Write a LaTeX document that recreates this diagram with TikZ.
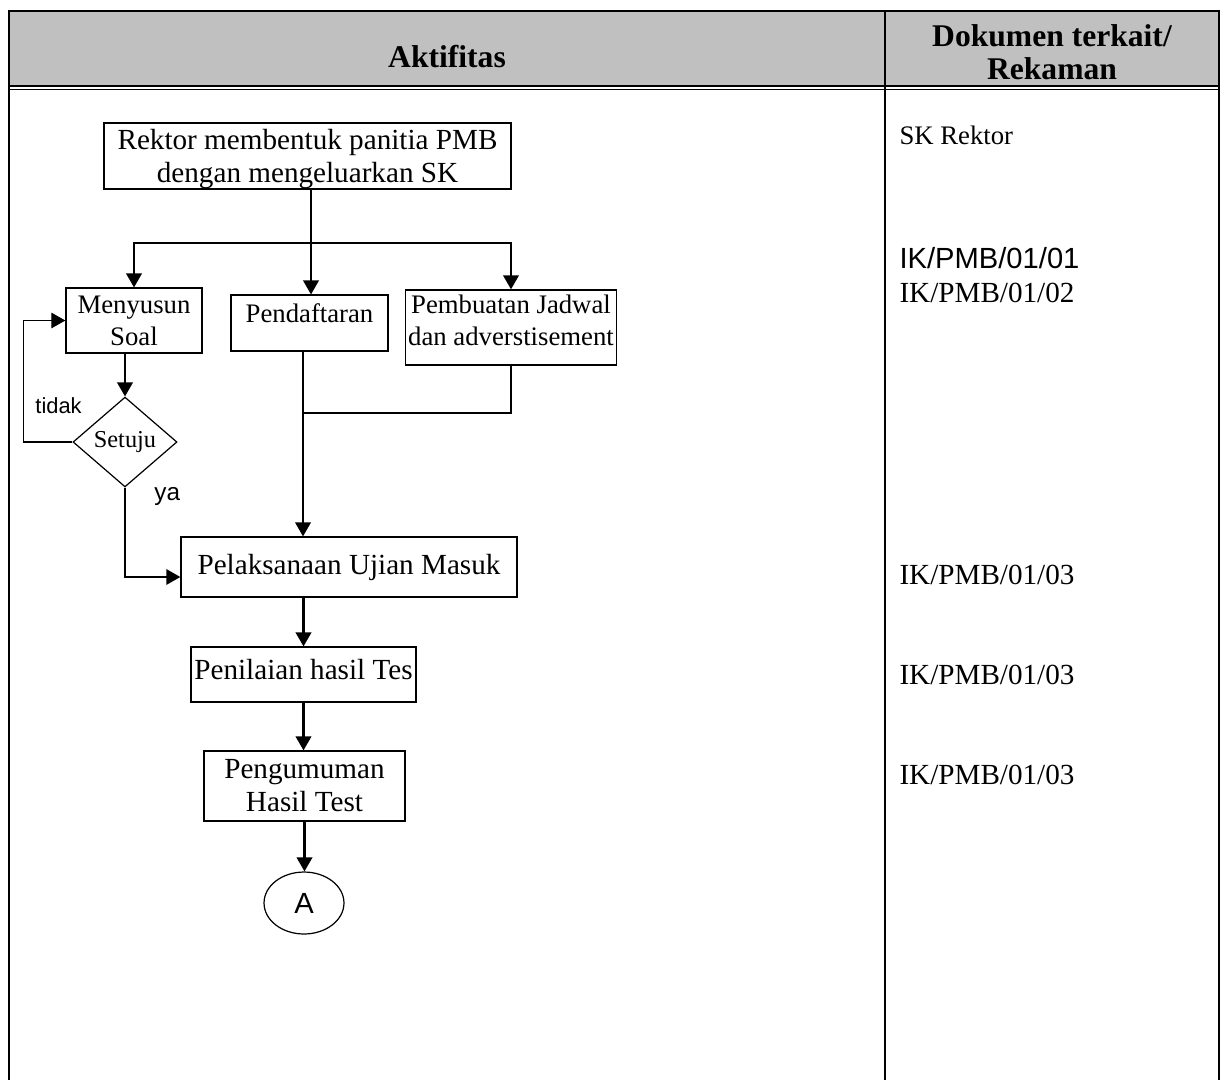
\documentclass[tikz,border=0pt]{standalone}
\usepackage{fontspec}
\setmainfont{Liberation Serif}
\newfontfamily\arialfont{Liberation Sans}
\usetikzlibrary{shapes.geometric}
\usetikzlibrary{arrows.meta}
\usetikzlibrary{calc}
\definecolor{headgray}{RGB}{192,192,192}

\begin{document}
\begin{tikzpicture}[x=0.4115pt,y=-0.4115pt,
  >={Triangle[length=5.8pt,width=6.4pt]},
  box/.style={draw,line width=0.5pt,inner sep=1pt,align=center,font=\fontsize{12}{13.6}\selectfont},
  smallbox/.style={box,font=\fontsize{11}{13.2}\selectfont},
  flow/.style={line width=0.95pt},
  doc/.style={anchor=base west,inner sep=0pt,font=\fontsize{12}{13.6}\selectfont},
  note/.style={anchor=base west,inner sep=0pt}]
\useasboundingbox (0,0) rectangle (1228,1080);
\fill[headgray] (9,11) rectangle (1219,86); %header
\draw[line width=1pt] (9,1080) -- (9,11) -- (1219,11) -- (1219,1080); %table
\draw[line width=0.9pt] (885,11) -- (885,1080);
\draw[line width=0.7pt] (9,86) -- (1219,86);
\draw[line width=0.7pt] (9,89.5) -- (1219,89.5);
\node (aktif) at (447,67) [anchor=base,inner sep=0pt,font=\fontsize{13}{16}\selectfont\bfseries] {Aktifitas};
\node (dokhead) at (1052,52) [inner sep=0pt,align=center,font=\fontsize{13}{13.8}\selectfont\bfseries] {Dokumen terkait/\\Rekaman};
\node (rektor) at (307.5,156) [box,minimum width=167.5pt,minimum height=27.2pt,text depth=0pt] {Rektor membentuk panitia PMB\\dengan mengeluarkan SK}; %boxes
\node (soal) at (134,320.5) [smallbox,minimum width=56pt,minimum height=26.7pt] {Menyusun\\Soal};
\node (daftar) at (309.5,323) [smallbox,minimum width=64.6pt,minimum height=23pt,text depth=8pt] {Pendaftaran};
\node (jadwal) at (511,327.5) [smallbox,minimum width=86.4pt,minimum height=30.9pt,text depth=6pt] {Pembuatan Jadwal\\dan adverstisement};
\node (setuju) at (125,442) [draw,diamond,aspect=1.156,minimum width=42.8pt,minimum height=37pt,inner sep=0pt,line width=0.5pt,font=\fontsize{10}{12}\selectfont] {Setuju};
\node (ujian) at (349,567) [box,minimum width=138.3pt,minimum height=24.7pt] {Pelaksanaan Ujian Masuk};
\node (nilai) at (303.5,674.5) [box,minimum width=92.6pt,minimum height=22.6pt,text depth=4pt] {Penilaian hasil Tes};
\node (umum) at (304.5,786) [box,minimum width=82.7pt,minimum height=28.8pt] {Pengumuman\\Hasil Test};
\node (a) at (304,903) [draw,ellipse,line width=0.5pt,minimum width=32.9pt,minimum height=25.5pt,inner sep=0pt,font=\arialfont\fontsize{12}{14}\selectfont] {A};
\node (tidak) at (35,413) [note,font=\arialfont\fontsize{9}{11}\selectfont] {tidak};
\node (ya) at (154,500) [note,font=\arialfont\fontsize{10}{12}\selectfont] {ya};
\node (skrektor) at (899,144) [doc,font=\fontsize{11}{13}\selectfont] {SK Rektor}; %documents
\node (ik1) at (899,268) [doc,font=\arialfont\fontsize{12}{14}\selectfont] {IK/PMB/01/01};
\node (ik2) at (899,302) [doc] {IK/PMB/01/02};
\node (ik3) at (899,584) [doc] {IK/PMB/01/03};
\node (ik4) at (899,684) [doc] {IK/PMB/01/03};
\node (ik5) at (899,784) [doc] {IK/PMB/01/03};
\coordinate (split) at (311,243);
\coordinate (merge) at (303,413);
\draw[line width=0.6pt] (rektor.south -| split) -- (split); %arrows
\draw[flow,->] (split) -| (soal.north);
\draw[flow,->] (split) -| (jadwal.north);
\draw[flow,->] (split) -- (split |- daftar.north);
\draw[flow,->] (setuju.north |- soal.south) -- (setuju.north);
\draw[line width=0.6pt,->] (setuju.west) -- ++(-49,0) |- (soal.west); %tidak
\draw[line width=0.7pt,->] (setuju.south) |- ($(ujian.west)+(0,10)$); %ya
\draw[line width=0.7pt] (jadwal.south) |- (merge);
\draw[flow,->] (merge |- daftar.south) -- (merge |- ujian.north);
\draw[flow,->] (nilai.north |- ujian.south) -- (nilai.north);
\draw[flow,->] (nilai.south) -- (nilai.south |- umum.north);
\draw[flow,->] (umum.south) -- (umum.south |- a.north);
\end{tikzpicture}
\end{document}
